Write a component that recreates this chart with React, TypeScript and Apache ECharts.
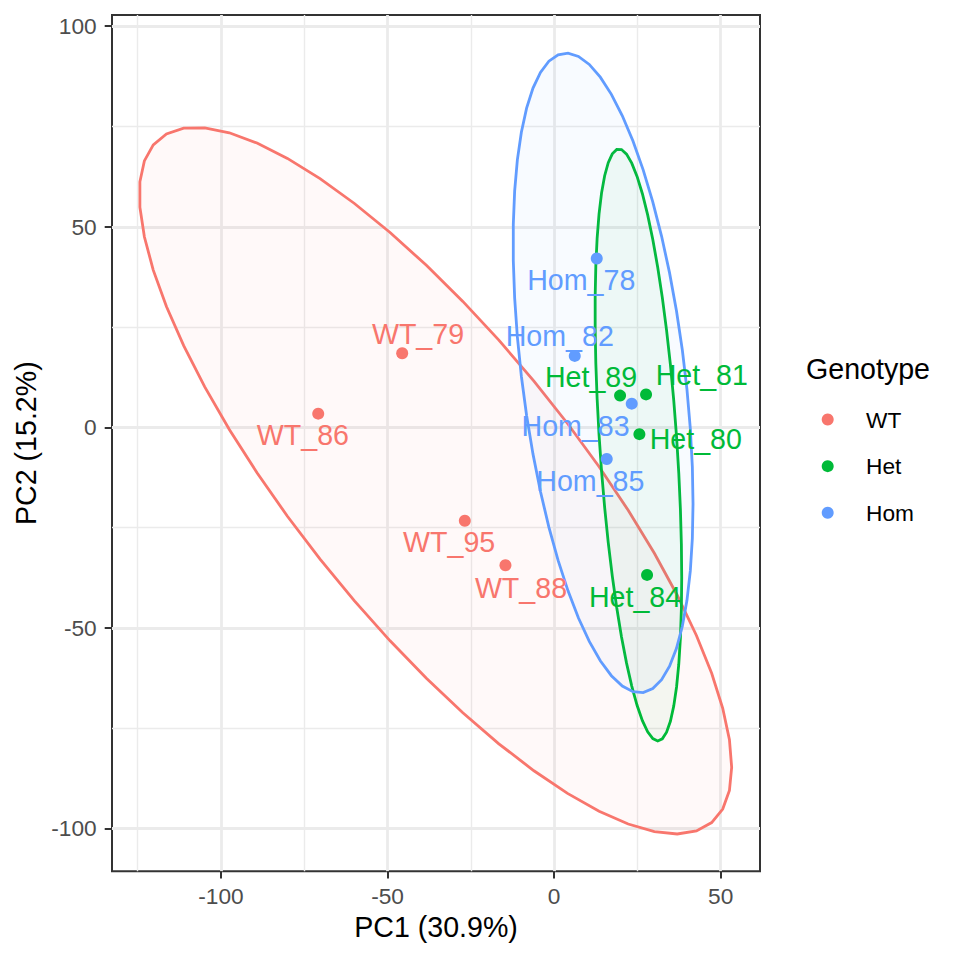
import React, { useEffect, useRef } from "react";
import * as echarts from "echarts";

// ---------- data ----------
const genotypes = ["WT", "Het", "Hom"];
const genotypeColors = ["#F8766D", "#00BA38", "#619CFF"];

const sampleNames = ["WT_79", "WT_86", "WT_95", "WT_88", "Het_89", "Het_81", "Het_80", "Het_84", "Hom_78", "Hom_82", "Hom_83", "Hom_85"];
const sampleGenotype = ["WT", "WT", "WT", "WT", "Het", "Het", "Het", "Het", "Hom", "Hom", "Hom", "Hom"];
const pc1 = [-45.6, -70.8, -26.8, -14.6, 19.8, 27.6, 25.6, 27.9, 12.8, 6.2, 23.3, 15.8];
const pc2 = [18.45, 3.4, -23.3, -34.4, 7.9, 8.2, -1.7, -36.8, 42.1, 17.8, 5.9, -7.9];

// 95% ellipses: centre and scaled covariance [sxx, sxy, syy]
const ellipseCentre = [[-35.6, -13.3], [25.3, -4.4], [14.7, 13.55]];
const ellipseShape = [[7903, -6354, 7762], [169, -430, 5446], [729, -880, 6360]];
const ELLIPSE_SEGMENTS = 51;

// axes
const xLimits = [-132.7, 61.8];
const yLimits = [-110.7, 102.8];
const xTicks = [-100, -50, 0, 50];
const xMinorTicks = [-125, -75, -25, 25];
const yTicks = [-100, -50, 0, 50, 100];
const yMinorTicks = [-75, -25, 25, 75];
const xTitle = "PC1 (30.9%)";
const yTitle = "PC2 (15.2%)";
const legendTitle = "Genotype";

// ---------- layout (pixels) ----------
const labelOffsets = [
  [15.8, -19.6], [-15.3, 21], [-15.7, 21.3], [15.5, 22.4],
  [-29, -18.4], [55.7, -19], [56.4, 4.7], [-12, 21.6],
  [-15.5, 21.4], [-15, -19.7], [-56.2, 22.6], [-16.4, 21.7],
];

const FONT = "'Liberation Sans', Arial, Helvetica, sans-serif";

function hexToRgba(hex: string, a: number) {
  const n = parseInt(hex.slice(1), 16);
  return `rgba(${(n >> 16) & 255},${(n >> 8) & 255},${n & 255},${a})`;
}

function ellipsePolygon(gi: number) {
  const [cx, cy] = ellipseCentre[gi];
  const [sxx, sxy, syy] = ellipseShape[gi];
  const r11 = Math.sqrt(sxx);
  const r12 = sxy / r11;
  const r22 = Math.sqrt(syy - r12 * r12);
  const pts: number[][] = [];
  for (let k = 0; k <= ELLIPSE_SEGMENTS; k++) {
    const t = (2 * Math.PI * k) / ELLIPSE_SEGMENTS;
    pts.push([cx + Math.cos(t) * r11, cy + Math.cos(t) * r12 + Math.sin(t) * r22]);
  }
  return pts;
}

export default function App() {
  const ref = useRef<HTMLDivElement>(null);

  useEffect(() => {
    if (!ref.current) return;
    const chart = echarts.init(ref.current, null, { renderer: "svg" });

    const ellipseSeries = genotypes.map((g, gi) => ({
      type: "custom",
      name: g,
      coordinateSystem: "cartesian2d",
      xAxisIndex: 0,
      yAxisIndex: 0,
      silent: true,
      z: 1,
      data: [ellipseCentre[gi]],
      encode: { x: 0, y: 1 },
      renderItem: (_params: any, api: any) => {
        const pts = ellipsePolygon(gi).map((p) => api.coord(p));
        return {
          type: "polygon",
          shape: { points: pts },
          style: {
            fill: hexToRgba(genotypeColors[gi], 0.045),
            stroke: genotypeColors[gi],
            lineWidth: 2.8,
          },
        };
      },
    }));

    const scatterSeries = genotypes.map((g, gi) => ({
      type: "scatter",
      name: g,
      xAxisIndex: 0,
      yAxisIndex: 0,
      z: 3,
      symbol: "circle",
      symbolSize: 12,
      itemStyle: { color: genotypeColors[gi], opacity: 1 },
      label: {
        show: true,
        position: "inside",
        formatter: "{b}",
        color: genotypeColors[gi],
        fontSize: 28.6,
        fontFamily: FONT,
      },
      emphasis: { disabled: true },
      data: sampleNames
        .map((name, i) => ({ name, i }))
        .filter((d) => sampleGenotype[d.i] === g)
        .map((d) => ({
          name: d.name,
          value: [pc1[d.i], pc2[d.i]],
          label: { offset: labelOffsets[d.i] },
        })),
    }));

    const majorAxisCommon = {
      type: "value",
      axisLine: { show: false, onZero: false },
      axisTick: { show: true, length: 7.3, lineStyle: { color: "#333333", width: 2 } },
      splitLine: { show: true, lineStyle: { color: "#EBEBEB", width: 2.8 } },
      minorSplitLine: { show: false },
    };
    const minorAxisCommon = {
      type: "value",
      axisLine: { show: false, onZero: false },
      axisLabel: { show: false },
      splitLine: { show: true, lineStyle: { color: "#EBEBEB", width: 1.4 } },
    };

    chart.setOption({
      animation: false,
      backgroundColor: "#ffffff",
      textStyle: { fontFamily: FONT },
      grid: {
        left: 112,
        top: 15,
        width: 648,
        height: 856.3,
        show: true,
        borderColor: "#333333",
        borderWidth: 2,
        backgroundColor: "transparent",
        containLabel: false,
      },
      xAxis: [
        {
          ...majorAxisCommon,
          min: xLimits[0],
          max: xLimits[1],
          splitNumber: 4,
          position: "bottom",
          axisTick: { ...majorAxisCommon.axisTick, customValues: xTicks },
          axisLabel: {
            customValues: xTicks,
            color: "#4D4D4D",
            fontSize: 22.7,
            fontFamily: FONT,
            margin: 13,
          },
          name: xTitle,
          nameLocation: "middle",
          nameGap: 40,
          nameTextStyle: { color: "#000000", fontSize: 28.6, fontFamily: FONT },
        },
        {
          ...minorAxisCommon,
          min: xLimits[0],
          max: xLimits[1],
          position: "top",
          axisTick: { show: false, customValues: xMinorTicks },
        },
      ],
      yAxis: [
        {
          ...majorAxisCommon,
          min: yLimits[0],
          max: yLimits[1],
          splitNumber: 4,
          position: "left",
          axisTick: { ...majorAxisCommon.axisTick, customValues: yTicks },
          axisLabel: {
            customValues: yTicks,
            color: "#4D4D4D",
            fontSize: 22.7,
            fontFamily: FONT,
            margin: 15.3,
          },
          name: yTitle,
          nameLocation: "middle",
          nameGap: 70.7,
          nameRotate: 90,
          nameTextStyle: { color: "#000000", fontSize: 28.6, fontFamily: FONT },
        },
        {
          ...minorAxisCommon,
          min: yLimits[0],
          max: yLimits[1],
          position: "right",
          axisTick: { show: false, customValues: yMinorTicks },
        },
      ],
      legend: {
        orient: "vertical",
        left: 821.7,
        top: 408,
        padding: 0,
        itemGap: 23.65,
        itemWidth: 12,
        itemHeight: 12,
        icon: "circle",
        selectedMode: false,
        textStyle: {
          color: "#000000",
          fontSize: 22.7,
          fontFamily: FONT,
          padding: [0, 0, 0, 27.3],
        },
        data: genotypes.map((g, gi) => ({
          name: g,
          icon: "circle",
          itemStyle: { color: genotypeColors[gi] },
        })),
      },
      graphic: [
        {
          type: "text",
          x: 806,
          y: 369,
          style: {
            text: legendTitle,
            fill: "#000000",
            font: `28.6px ${FONT}`,
            align: "left",
            verticalAlign: "middle",
          },
        },
      ],
      series: [...ellipseSeries, ...scatterSeries],
    });

    return () => chart.dispose();
  }, []);

  return (
    <div
      ref={ref}
      style={{ position: "fixed", left: 0, top: 0, width: 960, height: 960, background: "#fff" }}
    />
  );
}
